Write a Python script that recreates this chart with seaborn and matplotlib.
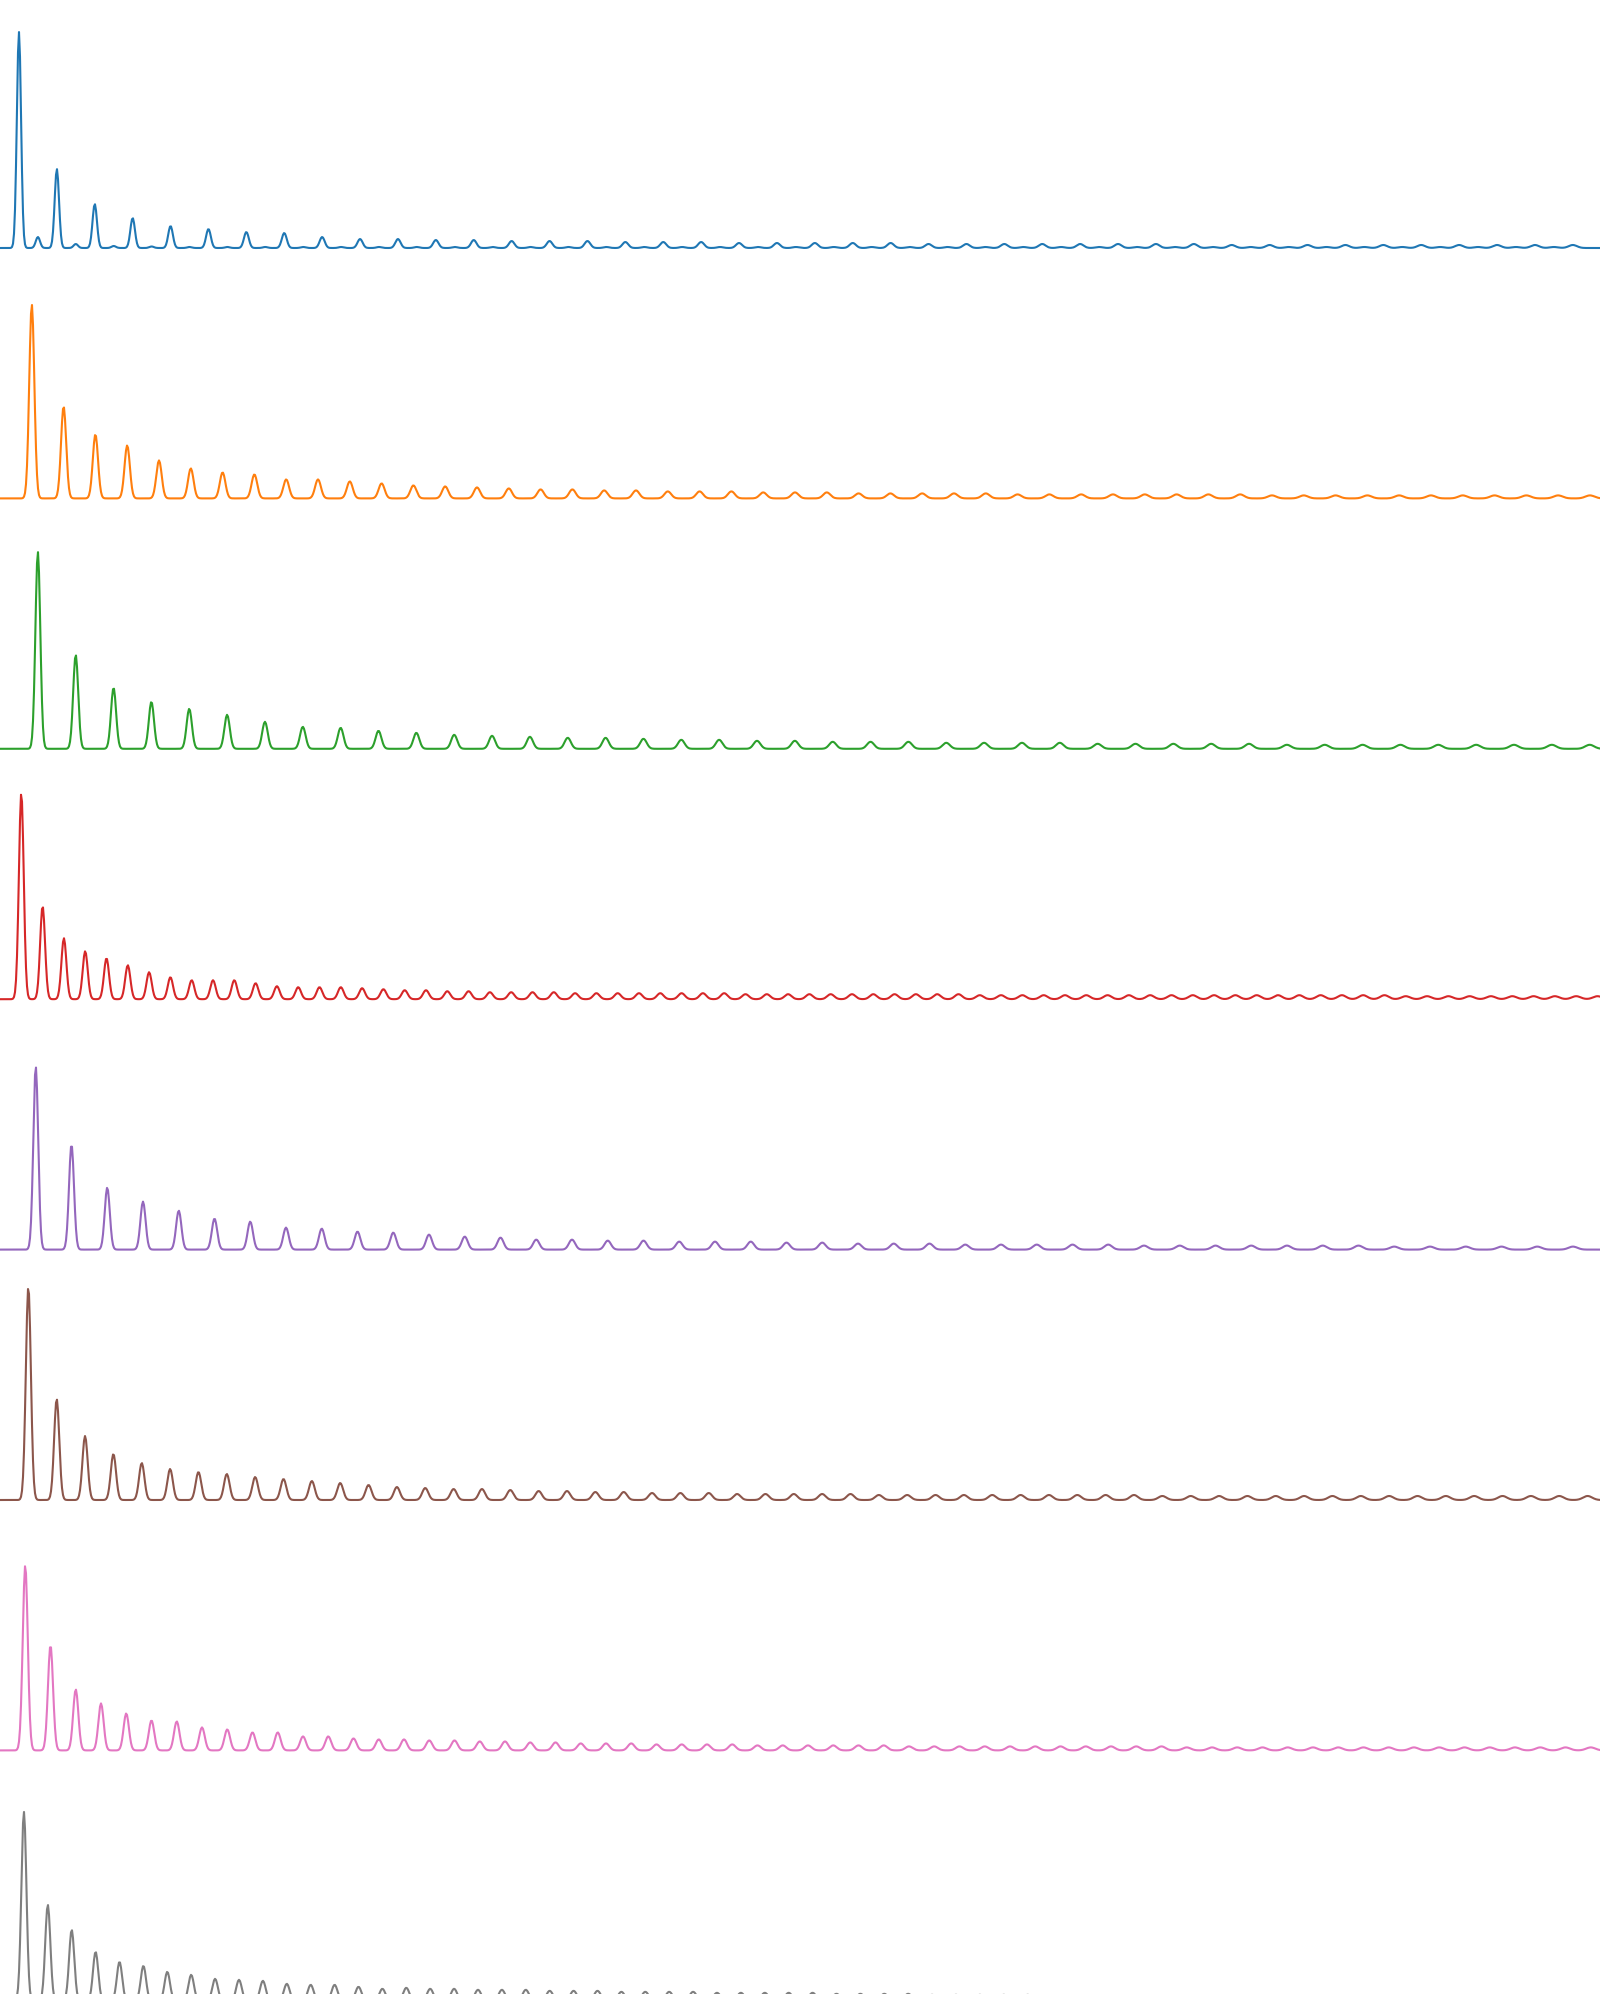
import numpy as np
import pandas as pd
import seaborn as sns
from matplotlib import pyplot as plt

# Harmonic spectra, one per panel. Spacing of the harmonics (x units = pixels
# of the original frequency axis) and the height of each harmonic.
spacing = [18.95, 31.8, 37.85, 21.3, 35.75, 28.35, 25.25, 23.9]

# Blue panel: strong odd harmonics, weak even ones.
blue_odd = [216, 79, 44, 30, 22, 19, 16, 15, 11, 9, 9, 8, 8, 7, 7, 7, 6, 6, 6, 5,
            5, 5, 5, 5, 4, 4, 4, 4, 4, 4, 4, 4, 3, 3, 3, 3, 3, 3, 3, 3, 3, 3]
blue_even = [11, 4, 2, 1.5, 1, 1, 1, 1, 1, 1, 1, 1, 1, 1, 1, 1, 1, 1, 1, 1,
             1, 1, 1, 1, 1, 1, 1, 1, 1, 1, 1, 1, 1, 1, 1, 1, 1, 1, 1, 1, 1]
orange = [194, 92, 64, 53, 38, 30, 26, 24, 19, 19, 17, 15, 13, 12, 11, 10, 9, 9, 8, 8,
          7, 7, 7, 6, 6, 6, 5, 5, 5, 5, 5, 4, 4, 4, 4, 4, 4, 4, 4, 3,
          3, 3, 3, 3, 3, 3, 3, 3, 3, 3]
green = [197, 94, 61, 47, 40, 34, 27, 22, 21, 18, 16, 14, 13, 12, 11, 11, 10, 9, 9, 8,
         8, 7, 7, 7, 6, 6, 6, 6, 5, 5, 5, 5, 5, 4, 4, 4, 4, 4, 4, 4, 4, 4]
red = [206, 93, 61, 48, 41, 34, 27, 22, 19, 19, 19, 16, 13, 12, 12, 12, 11, 10, 9, 9,
       8, 8, 7, 7, 7, 7, 6, 6, 6, 6, 6, 6, 6, 6, 5, 5, 5, 5, 5, 5,
       5, 5, 5, 5, 5, 4, 4, 4, 4, 4, 4, 4, 4, 4, 4, 4, 4, 4, 4, 4,
       4, 4, 4, 4, 4, 3, 3, 3, 3, 3, 3, 3, 3, 3, 3]
purple = [183, 105, 62, 48, 39, 31, 28, 22, 21, 18, 17, 15, 13, 12, 10, 10, 9, 9, 8, 8,
          8, 7, 7, 6, 6, 6, 5, 5, 5, 5, 5, 4, 4, 4, 4, 4, 4, 4, 3, 3, 3, 3, 3, 3]
brown = [213, 101, 64, 46, 37, 31, 28, 26, 23, 21, 19, 17, 15, 13, 12, 11, 11, 10, 9, 9,
         8, 8, 7, 7, 7, 6, 6, 6, 6, 6, 5, 5, 5, 5, 5, 5, 5, 5, 5, 5,
         4, 4, 4, 4, 4, 4, 4, 4, 4, 4, 4, 4, 4, 4, 4, 4]
pink = [185, 105, 61, 47, 37, 30, 29, 23, 21, 18, 18, 14, 14, 12, 11, 11, 10, 10, 9, 9,
        8, 8, 7, 7, 7, 6, 6, 6, 6, 5, 5, 5, 5, 5, 5, 4, 4, 4, 4, 4,
        4, 4, 4, 4, 4, 4, 3, 3, 3, 3, 3, 3, 3, 3, 3, 3, 3, 3, 3, 3, 3, 3, 3]
gray = [189, 96, 71, 49, 39, 35, 29, 26, 22, 21, 20, 17, 16, 16, 14, 12, 13, 12, 12, 11,
        11, 11, 10, 10, 10, 9, 9, 9, 9, 8, 8, 8, 8, 8, 7, 7, 7, 7, 6, 6,
        6, 6, 6, 5, 5, 5, 5, 5, 5, 4, 4, 4, 4, 4, 4, 4, 4, 4, 3, 3, 3, 3, 3, 3, 3, 3]

# line width of the lowest harmonic in each panel; lines broaden slowly upwards
widths = [2.1, 2.5, 2.4, 2.4, 2.4, 2.5, 2.5, 2.5]
broadening = 0.0013


def harmonic_table(f0, amps, width):
    freq = np.arange(0, 1601, 1.0)
    mag = np.zeros_like(freq)
    for k, a in enumerate(amps, start=1):
        centre = k * f0
        s = width + broadening * centre
        mag += a * np.exp(-0.5 * ((freq - centre) / s) ** 2)
    return pd.DataFrame({"freq": freq, "mag": mag})


blue = [v for pair in zip(blue_odd, blue_even + [0]) for v in pair]
series = [blue, orange, green, red, purple, brown, pink, gray]
colors = sns.color_palette("tab10")[:8]

W, H = 1600, 1994
panel = 250.4
first_base = 248

fig = plt.figure(figsize=(W / 100, H / 100), dpi=100)
for i, (f0, amps, w) in enumerate(zip(spacing, series, widths)):
    base = first_base + panel * i
    ax = fig.add_axes([0, (H - base) / H, 1, panel / H])
    df = harmonic_table(f0, amps, w)
    sns.lineplot(data=df, x="freq", y="mag", ax=ax, color=colors[i], linewidth=1.5)
    for line in ax.lines:
        line.set_clip_on(False)
    ax.set_xlim(0, 1600)
    ax.set_ylim(0, panel)
    ax.set_axis_off()

fig.savefig("out.png", dpi=100)
